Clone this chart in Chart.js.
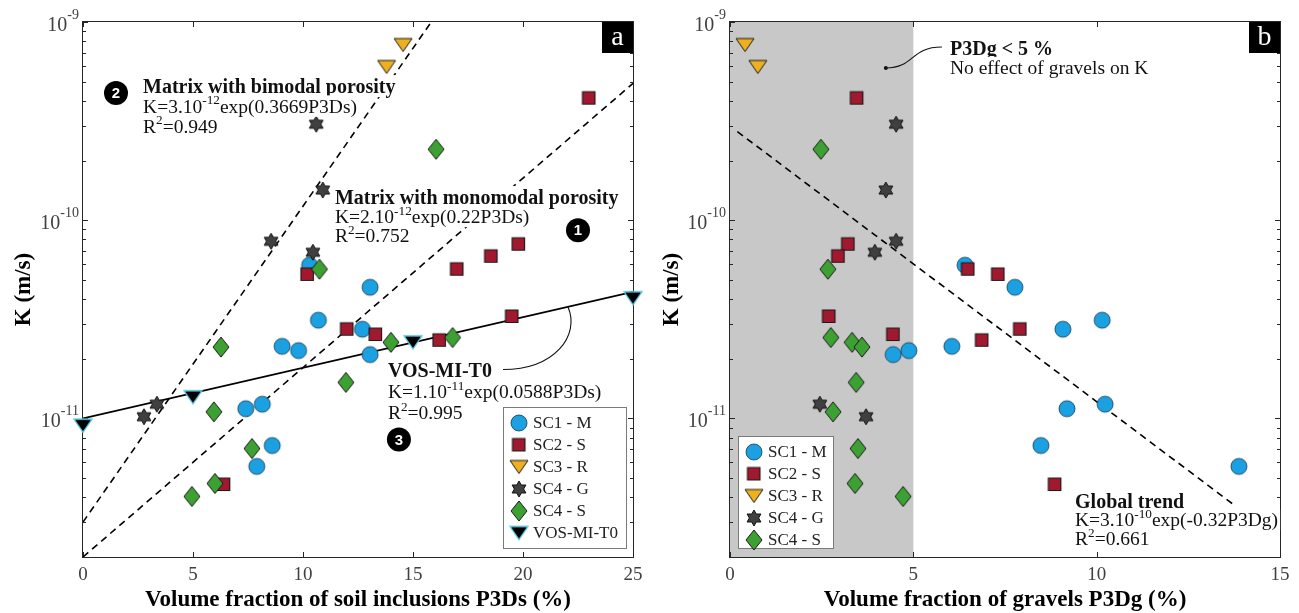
<!DOCTYPE html>
<html><head><meta charset="utf-8">
<script src="https://cdn.jsdelivr.net/npm/chart.js@4.4.1/dist/chart.umd.min.js"></script>
<style>
html,body{margin:0;padding:0;background:#fff;}
#wrap{position:relative;width:1299px;height:613px;overflow:hidden;background:#fff}
#pa{position:absolute;left:0;top:0}
#pb{position:absolute;left:650px;top:0}
</style></head><body>
<div id="wrap">
<canvas id="pa" width="650" height="613"></canvas>
<canvas id="pb" width="649" height="613"></canvas>
</div>
<script>
// ================= DATA =================
// Hydraulic conductivity K (m/s) and volume fractions (%)
const sc1_K    = [5.93e-11, 4.59e-11, 3.13e-11, 2.82e-11, 2.31e-11, 2.20e-11, 2.10e-11, 1.18e-11, 1.12e-11, 7.3e-12, 5.73e-12];
const sc1_P3Ds = [10.3, 13.05, 10.7, 12.7, 9.05, 9.8, 13.05, 8.15, 7.4, 8.6, 7.9];
const sc1_P3Dg = [6.41, 7.77, 10.15, 9.08, 6.05, 4.88, 4.45, 10.23, 9.19, 8.48, 13.88];

const sc2_K    = [4.13e-10, 7.57e-11, 6.58e-11, 5.66e-11, 5.33e-11, 3.27e-11, 2.82e-11, 2.65e-11, 2.48e-11, 4.64e-12];
const sc2_P3Ds = [23.0, 19.8, 18.55, 17.0, 10.2, 19.5, 12.0, 13.3, 16.2, 6.4];
const sc2_P3Dg = [3.46, 3.22, 2.95, 6.49, 7.31, 2.70, 7.91, 4.45, 6.87, 8.86];

const sc3_K    = [7.65e-10, 5.93e-10];
const sc3_P3Ds = [14.55, 13.8];
const sc3_P3Dg = [0.41, 0.76];

const sc4g_K    = [3.05e-10, 1.42e-10, 7.83e-11, 6.89e-11, 1.18e-11, 1.02e-11];
const sc4g_P3Ds = [10.6, 10.9, 8.55, 10.45, 3.36, 2.77];
const sc4g_P3Dg = [4.53, 4.25, 4.53, 3.95, 2.45, 3.71];

const sc4s_K    = [2.28e-10, 5.66e-11, 2.56e-11, 2.42e-11, 2.29e-11, 1.52e-11, 1.08e-11, 7.05e-12, 4.7e-12, 4.04e-12];
const sc4s_P3Ds = [16.05, 10.75, 16.8, 14.0, 6.27, 11.95, 5.95, 7.68, 6.0, 4.95];
const sc4s_P3Dg = [2.48, 2.67, 2.75, 3.33, 3.60, 3.44, 2.81, 3.49, 3.41, 4.72];

const vos_K    = [9.2e-12, 1.28e-11, 2.42e-11, 4.04e-11];
const vos_P3Ds = [0, 5, 15, 25];

// Trend lines (end points)
const trendBi_x   = [0, 15.83],  trendBi_K   = [3.0e-12, 1.0e-9];
const trendMono_x = [0, 25],     trendMono_K = [2.0e-12, 4.9e-10];
const trendVos_x  = [0, 25],     trendVos_K  = [1.0e-11, 4.35e-11];
const trendGlob_x = [0.2, 13.8], trendGlob_K = [2.8e-10, 3.6e-12];

// Axes
const yMin = 2e-12, yMax = 1e-9;
const yDecades = [-11, -10, -9];
const yMinorMult = [2, 3, 4, 5, 6, 7, 8, 9];
const xTicksA = [0, 5, 10, 15, 20, 25];
const xTicksB = [0, 5, 10, 15];
const shadeB = [0, 5];

const legendA = ['SC1 - M', 'SC2 - S', 'SC3 - R', 'SC4 - G', 'SC4 - S', 'VOS-MI-T0'];
const legendB = ['SC1 - M', 'SC2 - S', 'SC3 - R', 'SC4 - G', 'SC4 - S'];

// ================= STYLE =================
const F  = "'Liberation Serif','Times New Roman',serif";
const FS = "'Liberation Sans',Arial,sans-serif";
const TXT = '#111';

function makeMarker(shape, fill, stroke, w, h, lw) {
  const pad = 2;
  const c = document.createElement('canvas');
  c.width = Math.ceil(w + pad * 2); c.height = Math.ceil(h + pad * 2);
  const g = c.getContext('2d');
  g.translate(pad, pad);
  g.beginPath();
  if (shape === 'circle') g.arc(w / 2, h / 2, w / 2, 0, Math.PI * 2);
  else if (shape === 'square') g.rect(0, 0, w, h);
  else if (shape === 'tridown') { g.moveTo(0, 0); g.lineTo(w, 0); g.lineTo(w / 2, h); g.closePath(); }
  else if (shape === 'diamond') { g.moveTo(w / 2, 0); g.lineTo(w, h / 2); g.lineTo(w / 2, h); g.lineTo(0, h / 2); g.closePath(); }
  else if (shape === 'hexagram') {
    const R = w / 2, r = R / Math.sqrt(3), cx = w / 2, cy = h / 2;
    for (let i = 0; i < 12; i++) {
      const ang = -Math.PI / 2 + i * Math.PI / 6;
      const rr = i % 2 === 0 ? R : r;
      const px = cx + rr * Math.cos(ang), py = cy + rr * Math.sin(ang);
      if (i === 0) g.moveTo(px, py); else g.lineTo(px, py);
    }
    g.closePath();
  }
  g.fillStyle = fill; g.fill();
  g.lineWidth = lw; g.strokeStyle = stroke; g.lineJoin = 'miter'; g.stroke();
  return c;
}
const MK = {
  'SC1 - M':   makeMarker('circle',  '#1ba1e2', '#14384f', 16, 16, 0.8),
  'SC2 - S':   makeMarker('square',  '#a0192f', '#1a1a1a', 12.5, 12.5, 1.1),
  'SC3 - R':   makeMarker('tridown', '#edb120', '#1a1a1a', 18, 13, 1),
  'SC4 - G':   makeMarker('hexagram','#404040', '#111111', 16, 16, 1),
  'SC4 - S':   makeMarker('diamond', '#3ca032', '#1a1a1a', 16, 20, 1),
  'VOS-MI-T0': makeMarker('tridown', '#000000', '#5cc8e6', 18, 13, 1.3)
};

const zip = (xs, ys) => xs.map((x, i) => ({ x: x, y: ys[i] }));
const lineDs = (xs, ys, dashed, w) => ({ type: 'scatter', data: zip(xs, ys), showLine: true, borderColor: '#000',
  borderWidth: w, borderDash: dashed ? [7, 5] : [], pointRadius: 0, fill: false, order: 20, clip: 0 });
const ptDs = (label, xs, ys, order) => ({ type: 'scatter', label: label, data: zip(xs, ys), pointStyle: MK[label],
  pointRadius: 8, showLine: false, order: order, clip: false });

// ================= DRAW HELPERS =================
function fontStr(bold, size) { return (bold ? 'bold ' : '') + size + 'px ' + F; }
function drawRich(ctx, segs, x, yc, size, bold, bg) {
  const sup = size * 0.68;
  const parts = []; let w = 0;
  for (const s of segs) {
    const isSup = Array.isArray(s); const t = isSup ? s[0] : s; const fs = isSup ? sup : size;
    ctx.font = fontStr(bold, fs);
    const tw = ctx.measureText(t).width;
    parts.push({ t: t, isSup: isSup, fs: fs, w: tw }); w += tw;
  }
  if (bg) { ctx.fillStyle = '#fff'; ctx.fillRect(x - 2, yc - size * 0.55, w + 4, size * 1.1); }
  const base = yc + size * 0.33;
  let cx = x; ctx.fillStyle = TXT; ctx.textAlign = 'left'; ctx.textBaseline = 'alphabetic';
  for (const p of parts) { ctx.font = fontStr(bold, p.fs); ctx.fillText(p.t, cx, p.isSup ? base - size * 0.42 : base); cx += p.w; }
  return w;
}

function decorPlugin(cfg) {
  return {
    id: 'decor' + cfg.letter,
    beforeDatasetsDraw(chart) {
      const ctx = chart.ctx, a = chart.chartArea, xs = chart.scales.x, ys = chart.scales.y;
      ctx.save();
      if (cfg.shade) {
        const x0 = xs.getPixelForValue(cfg.shade[0]), x1 = xs.getPixelForValue(cfg.shade[1]);
        ctx.fillStyle = '#c8c8c8';
        ctx.fillRect(x0, a.top, x1 - x0, a.bottom - a.top);
      }
      ctx.strokeStyle = '#262626'; ctx.lineWidth = 1;
      ctx.strokeRect(Math.round(a.left) - 0.5, Math.round(a.top) - 0.5, Math.round(a.right - a.left) + 1, Math.round(a.bottom - a.top) + 1);
      ctx.beginPath();
      // x ticks (inward, bottom and top)
      for (const v of cfg.xTicks) {
        const px = Math.round(xs.getPixelForValue(v)) + 0.5;
        ctx.moveTo(px, a.bottom); ctx.lineTo(px, a.bottom - 5);
        ctx.moveTo(px, a.top); ctx.lineTo(px, a.top + 5);
      }
      // y ticks
      for (const e of yDecades) {
        const py = Math.round(ys.getPixelForValue(Math.pow(10, e))) + 0.5;
        ctx.moveTo(a.left, py); ctx.lineTo(a.left + 5, py);
        ctx.moveTo(a.right, py); ctx.lineTo(a.right - 5, py);
        for (const m of yMinorMult) {
          const v = m * Math.pow(10, e - 1);
          if (v < yMin || v > yMax) continue;
          const pm = Math.round(ys.getPixelForValue(v)) + 0.5;
          ctx.moveTo(a.left, pm); ctx.lineTo(a.left + 3, pm);
          ctx.moveTo(a.right, pm); ctx.lineTo(a.right - 3, pm);
        }
      }
      ctx.stroke();
      ctx.restore();
    },
    afterDatasetsDraw(chart) {
      const ctx = chart.ctx, a = chart.chartArea, xs = chart.scales.x, ys = chart.scales.y;
      const P = (x, k) => ({ x: xs.getPixelForValue(x), y: ys.getPixelForValue(k) });
      ctx.save();
      // y tick labels 10^n
      for (const e of yDecades) {
        const py = ys.getPixelForValue(Math.pow(10, e));
        const ex = '-' + Math.abs(e);
        ctx.font = '14px ' + F; const we = ctx.measureText(ex).width;
        ctx.font = '20px ' + F; const wb = ctx.measureText('10').width;
        const right = a.left - 4;
        ctx.fillStyle = '#404040'; ctx.textAlign = 'left'; ctx.textBaseline = 'alphabetic';
        ctx.fillText('10', right - we - wb, py + 9);
        ctx.font = '14px ' + F;
        ctx.fillText(ex, right - we, py - 3.5);
      }
      // connectors
      for (const c of cfg.connectors) {
        const p0 = P(c.x0, c.k0), p3 = P(c.x1, c.k1);
        ctx.strokeStyle = '#111'; ctx.lineWidth = 1.1; ctx.beginPath();
        ctx.moveTo(p0.x, p0.y);
        if (c.kind === 'arc') ctx.bezierCurveTo(p0.x + 52, p0.y, p3.x + 12, p3.y + 28, p3.x, p3.y);
        else ctx.bezierCurveTo(p0.x + 29, p0.y, p3.x - 32, p3.y, p3.x, p3.y);
        ctx.stroke();
        if (c.dot) { ctx.fillStyle = '#111'; ctx.beginPath(); ctx.arc(p0.x, p0.y, 2, 0, Math.PI * 2); ctx.fill(); }
      }
      // text blocks
      for (const t of cfg.texts) {
        const p = P(t.x, t.k);
        t.lines.forEach((ln, i) => drawRich(ctx, ln.s, p.x, p.y + i * t.gap, ln.b ? 20 : 19.5, !!ln.b, true));
      }
      // numbered circles
      for (const c of cfg.circles) {
        const p = P(c.x, c.k);
        ctx.fillStyle = '#000'; ctx.beginPath(); ctx.arc(p.x, p.y, 12, 0, Math.PI * 2); ctx.fill();
        ctx.fillStyle = '#fff'; ctx.font = 'bold 15px ' + FS; ctx.textAlign = 'center'; ctx.textBaseline = 'middle';
        ctx.fillText(c.t, p.x, p.y + 1);
      }
      // legend
      const L = cfg.legend;
      const lx = L.side === 'right' ? a.right - L.off - L.w : a.left + L.off;
      const ly = a.bottom - 9 - L.h;
      ctx.fillStyle = '#fff'; ctx.fillRect(lx, ly, L.w, L.h);
      ctx.strokeStyle = '#7a7a7a'; ctx.lineWidth = 1; ctx.strokeRect(Math.round(lx) + 0.5, Math.round(ly) + 0.5, L.w, L.h);
      L.items.forEach((lab, i) => {
        const cy = ly + 16 + i * 22;
        const img = MK[lab];
        ctx.drawImage(img, lx + 16 - img.width / 2, cy - img.height / 2);
        ctx.fillStyle = '#222'; ctx.font = '17px ' + F; ctx.textAlign = 'left'; ctx.textBaseline = 'middle';
        ctx.fillText(lab, lx + 30, cy + 1);
      });
      // panel letter
      ctx.fillStyle = '#000'; ctx.fillRect(a.right - 31, a.top, 31, 31);
      ctx.fillStyle = '#fff'; ctx.font = '28px ' + F; ctx.textAlign = 'center'; ctx.textBaseline = 'alphabetic';
      ctx.fillText(cfg.letter, a.right - 15.5, a.top + 23);
      ctx.restore();
    }
  };
}

function makeChart(id, datasets, xMax, xTicks, xTitle, yTitlePad, yWidth, padRight, plugin) {
  return new Chart(document.getElementById(id), {
    data: { datasets: datasets },
    options: {
      responsive: false, animation: false, devicePixelRatio: 1, events: [],
      layout: { padding: { left: 0, right: padRight, top: 22, bottom: 0 } },
      plugins: { legend: { display: false }, tooltip: { enabled: false }, title: { display: false } },
      scales: {
        x: {
          type: 'linear', min: 0, max: xMax, position: 'bottom',
          afterFit: s => { s.height = 56; },
          afterBuildTicks: s => { s.ticks = xTicks.map(v => ({ value: v })); },
          grid: { display: false, drawTicks: false }, border: { display: false },
          ticks: { color: '#404040', font: { family: F, size: 19 }, padding: 7, maxRotation: 0, autoSkip: false },
          title: { display: true, text: xTitle, color: '#000', font: { family: F, size: 23, weight: 'bold', lineHeight: 1.1 }, padding: { top: 0, bottom: 0 } }
        },
        y: {
          type: 'logarithmic', min: yMin, max: yMax, position: 'left',
          afterFit: s => { s.width = yWidth; },
          grid: { display: false, drawTicks: false }, border: { display: false },
          ticks: { display: false },
          title: { display: true, text: 'K (m/s)', color: '#000', font: { family: F, size: 23, weight: 'bold', lineHeight: 1.1 }, padding: { top: yTitlePad, bottom: 0 } }
        }
      }
    },
    plugins: [plugin]
  });
}

// ================= PANEL A =================
const dsA = [
  lineDs(trendBi_x, trendBi_K, true, 1.6),
  lineDs(trendMono_x, trendMono_K, true, 1.6),
  lineDs(trendVos_x, trendVos_K, false, 1.8),
  ptDs('SC1 - M', sc1_P3Ds, sc1_K, 6),
  ptDs('SC2 - S', sc2_P3Ds, sc2_K, 5),
  ptDs('SC3 - R', sc3_P3Ds, sc3_K, 4),
  ptDs('SC4 - G', sc4g_P3Ds, sc4g_K, 3),
  ptDs('SC4 - S', sc4s_P3Ds, sc4s_K, 2),
  ptDs('VOS-MI-T0', vos_P3Ds, vos_K, 1)
];
const cfgA = {
  letter: 'a', xTicks: xTicksA, shade: null,
  texts: [
    { x: 2.73, k: 4.75e-10, gap: 20, lines: [ { b: true, s: ['Matrix with bimodal porosity'] }, { s: ['K=3.10', ['-12'], 'exp(0.3669P3Ds)'] }, { s: ['R', ['2'], '=0.949'] } ] },
    { x: 11.45, k: 1.31e-10, gap: 19.5, lines: [ { b: true, s: ['Matrix with monomodal porosity'] }, { s: ['K=2.10', ['-12'], 'exp(0.22P3Ds)'] }, { s: ['R', ['2'], '=0.752'] } ] },
    { x: 13.86, k: 1.75e-11, gap: 21, lines: [ { b: true, s: ['VOS-MI-T0'] }, { s: ['K=1.10', ['-11'], 'exp(0.0588P3Ds)'] }, { s: ['R', ['2'], '=0.995'] } ] }
  ],
  circles: [ { t: '2', x: 1.5, k: 4.38e-10 }, { t: '1', x: 22.5, k: 8.9e-11 }, { t: '3', x: 14.36, k: 7.83e-12 } ],
  connectors: [ { kind: 'arc', x0: 19.09, k0: 1.766e-11, x1: 22.05, k1: 3.64e-11, dot: false } ],
  legend: { side: 'right', off: 7, w: 123, h: 141, items: legendA }
};
makeChart('pa', dsA, 25, xTicksA, 'Volume fraction of soil inclusions P3Ds (%)', 11, 83, 17, decorPlugin(cfgA));

// ================= PANEL B =================
const dsB = [
  lineDs(trendGlob_x, trendGlob_K, true, 1.6),
  ptDs('SC1 - M', sc1_P3Dg, sc1_K, 6),
  ptDs('SC2 - S', sc2_P3Dg, sc2_K, 5),
  ptDs('SC3 - R', sc3_P3Dg, sc3_K, 4),
  ptDs('SC4 - G', sc4g_P3Dg, sc4g_K, 3),
  ptDs('SC4 - S', sc4s_P3Dg, sc4s_K, 2)
];
const cfgB = {
  letter: 'b', xTicks: xTicksB, shade: shadeB,
  texts: [
    { x: 6.0, k: 7.39e-10, gap: 19.5, lines: [ { b: true, s: ['P3Dg < 5 %'] }, { s: ['No effect of gravels on K'] } ] },
    { x: 9.41, k: 3.81e-12, gap: 18.5, lines: [ { b: true, s: ['Global trend'] }, { s: ['K=3.10', ['-10'], 'exp(-0.32P3Dg)'] }, { s: ['R', ['2'], '=0.661'] } ] }
  ],
  circles: [],
  connectors: [ { kind: 's', x0: 4.25, k0: 5.86e-10, x1: 5.78, k1: 7.48e-10, dot: true } ],
  legend: { side: 'left', off: 8, w: 95, h: 112, items: legendB }
};
makeChart('pb', dsB, 15, xTicksB, 'Volume fraction of gravels P3Dg (%)', 9, 80, 19, decorPlugin(cfgB));
</script>
</body></html>
